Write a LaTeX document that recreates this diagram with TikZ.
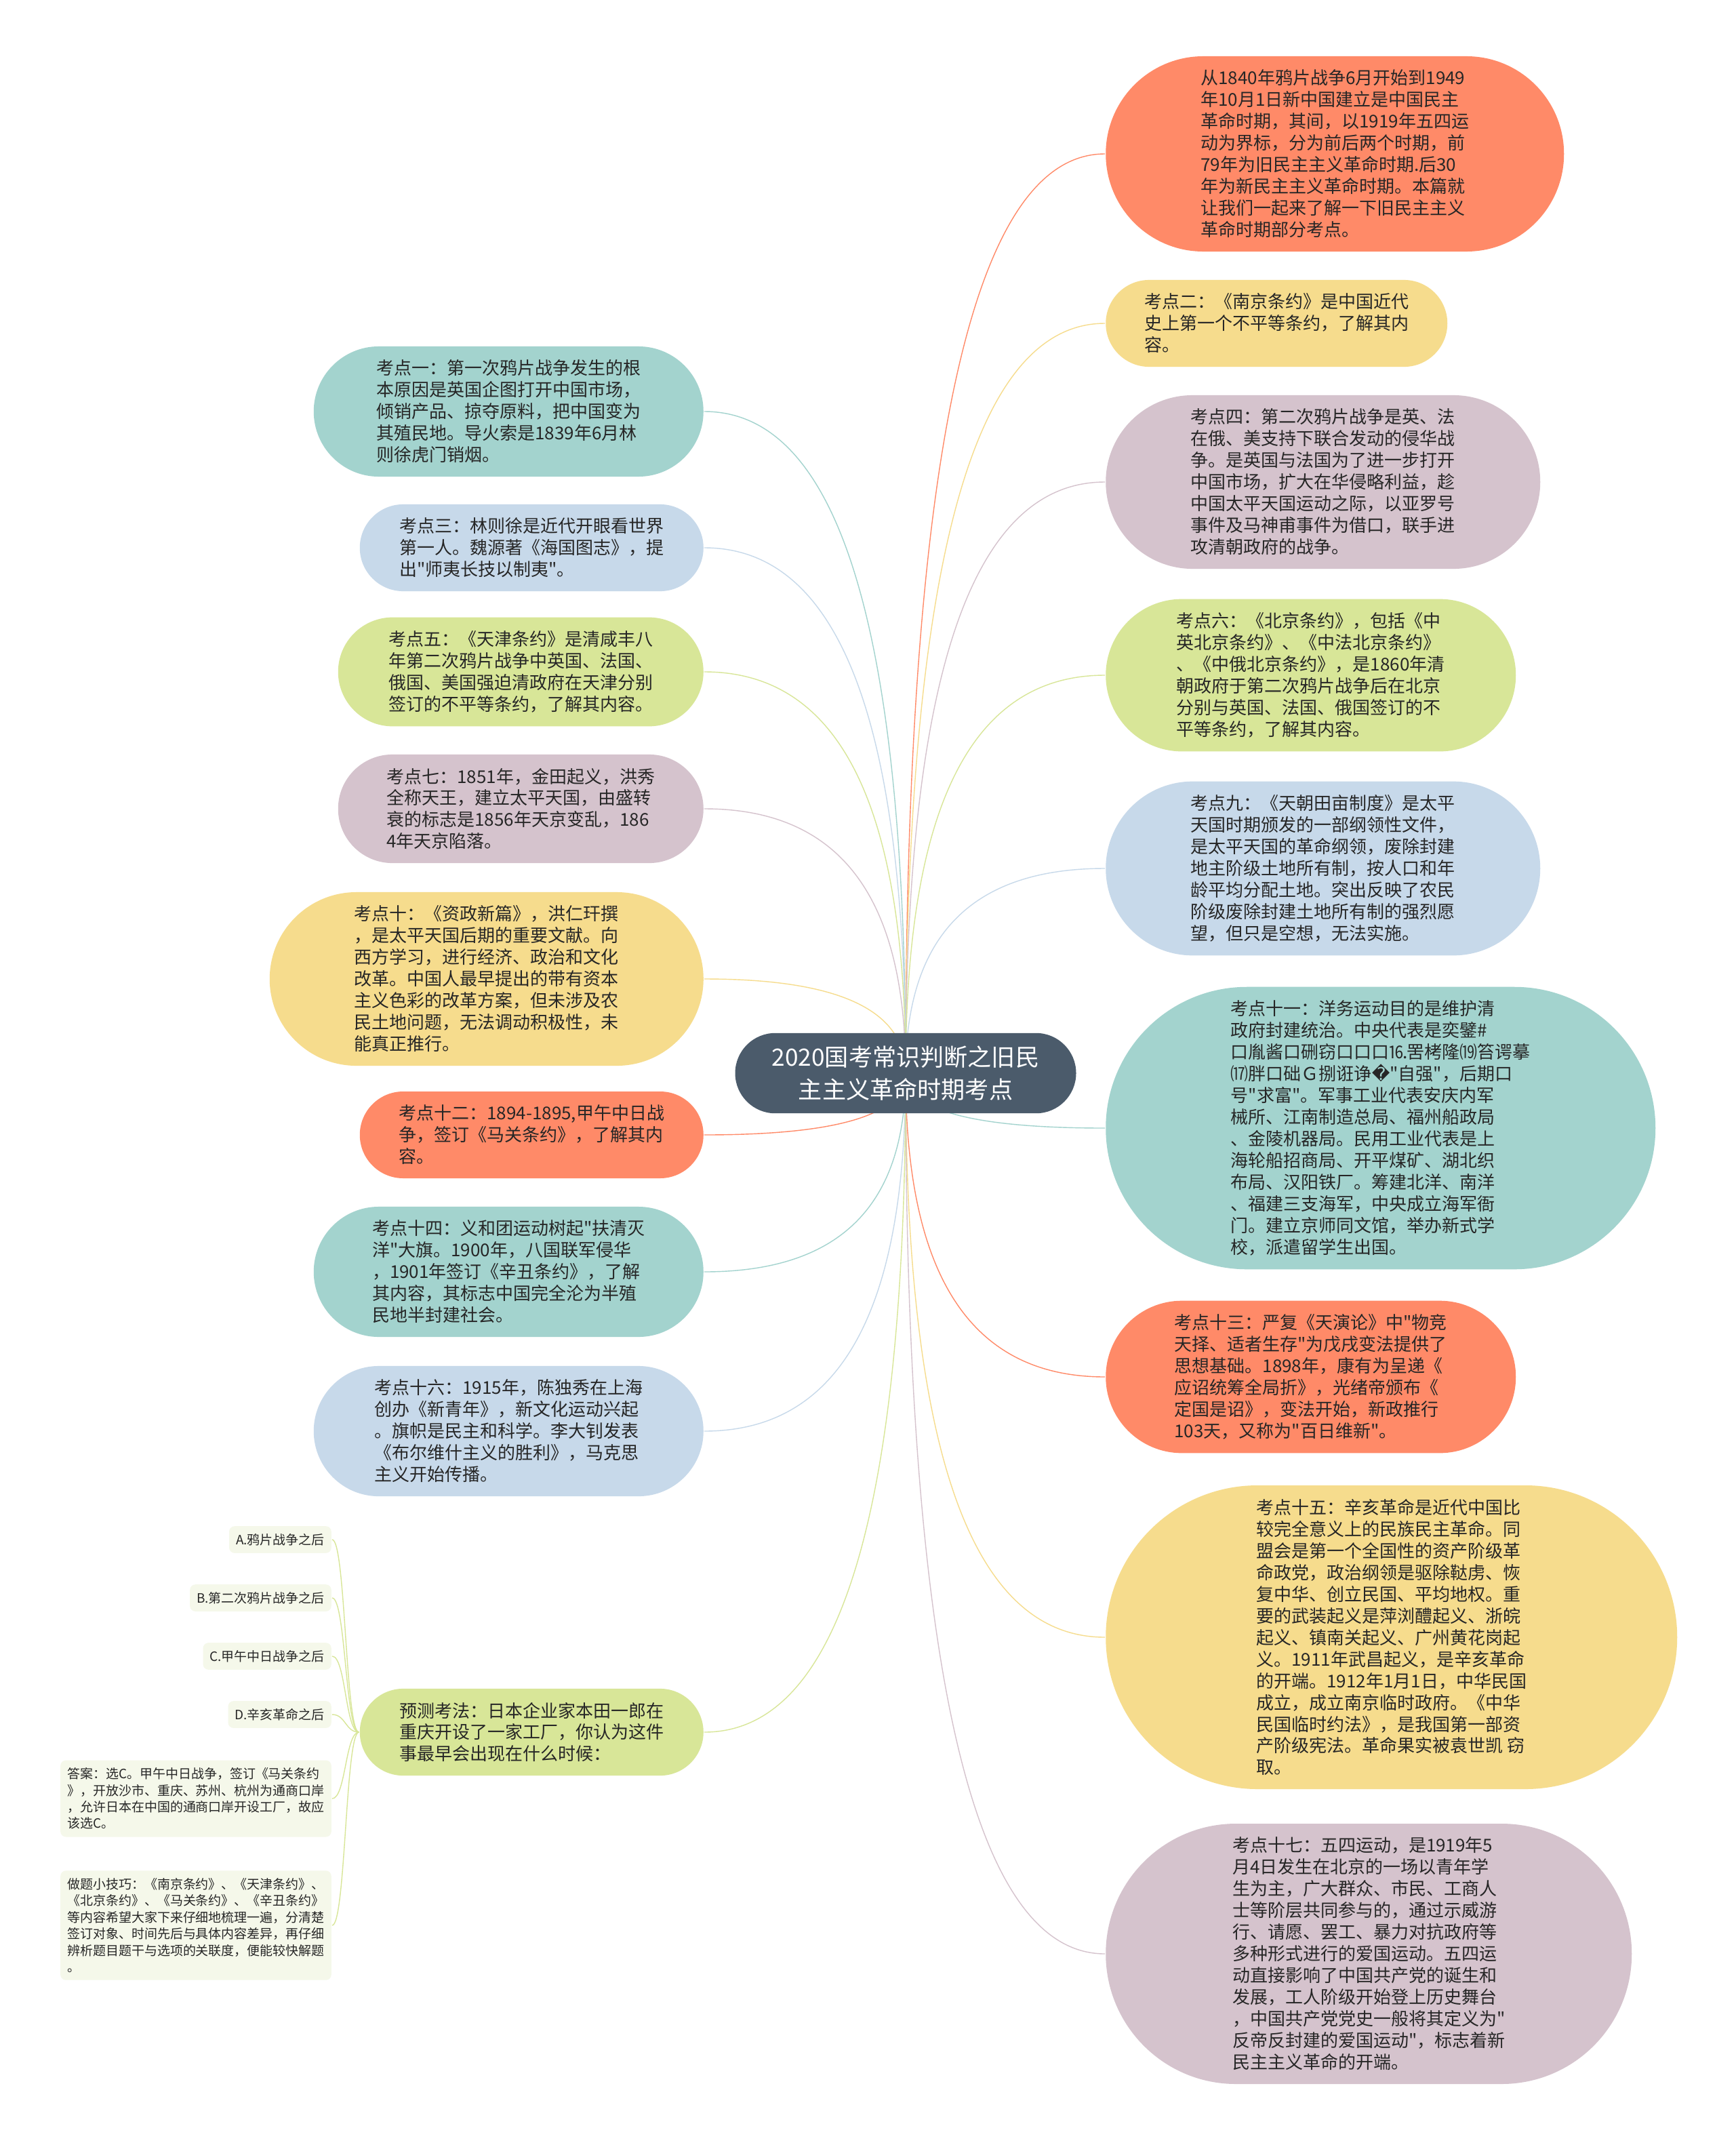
\documentclass[tikz,border=0pt]{standalone}
\usepackage{fontspec}
\setmainfont{Noto Sans CJK SC}
\newfontfamily\cjk{Noto Sans CJK SC}
\newfontfamily\dejavu{DejaVu Sans}
\usetikzlibrary{shapes.misc, calc, backgrounds}

\definecolor{rootfill}{HTML}{4B5B6B}
\definecolor{salmonfill}{HTML}{FF8A68}
\definecolor{sandfill}{HTML}{F6DC8D}
\definecolor{mauvefill}{HTML}{D5C3CD}
\definecolor{limefill}{HTML}{D8E698}
\definecolor{skyfill}{HTML}{C7D9EA}
\definecolor{seafill}{HTML}{A3D3CE}
\definecolor{optfill}{HTML}{F5F8EA}

\newcommand{\kpfont}{\cjk\fontsize{7.4pt}{9.1pt}\selectfont}
\newcommand{\optfont}{\cjk\fontsize{5.4pt}{6.95pt}\selectfont}
\newcommand{\rootfont}{\cjk\fontsize{10pt}{13.6pt}\selectfont}

\begin{document}
\begin{tikzpicture}[
    point/.style={
        rounded rectangle, text=black!85,
        inner xsep=0.02cm, inner ysep=0.2cm,
        align=left, font=\kpfont
    },
    warm/.style={point, fill=salmonfill},
    sand/.style={point, fill=sandfill},
    mauve/.style={point, fill=mauvefill},
    lime/.style={point, fill=limefill},
    sky/.style={point, fill=skyfill},
    sea/.style={point, fill=seafill},
    opt/.style={
        rectangle, rounded corners=0.08cm, fill=optfill, text=black!85,
        inner xsep=0.1cm, inner ysep=0.11cm,
        align=left, font=\optfont, anchor=east
    },
    branch/.style={to path={
        .. controls ($(\tikztostart)!0.67!(\tikztostart |- \tikztotarget)$)
        and ($(\tikztotarget)!0.67!(\tikztostart |- \tikztotarget)$) .. (\tikztotarget)}},
    twig/.style={to path={.. controls +(-0.2,0) and +(0.2,0) .. (\tikztotarget)}},
    line width=0.7pt
]
\useasboundingbox (0,0) rectangle (25.6,-31.64);

% root
\node[rounded rectangle, fill=rootfill, text=white, font=\rootfont, align=center,
      inner xsep=0.02cm, inner ysep=0.19cm, minimum width=5.07cm] (root) at (13.36,-15.83)
    {2020国考常识判断之旧民\\主主义革命时期考点};

% right column
\node[warm, anchor=west, minimum width=6.8cm] (intro) at (16.3,-2.27) {从1840年鸦片战争6月开始到1949\\年10月1日新中国建立是中国民主\\革命时期，其间，以1919年五四运\\动为界标，分为前后两个时期，前\\79年为旧民主主义革命时期.后30\\年为新民主主义革命时期。本篇就\\让我们一起来了解一下旧民主主义\\革命时期部分考点。};
\node[sand, anchor=west, minimum width=5.08cm] (kp2) at (16.3,-4.77) {考点二：《南京条约》是中国近代\\史上第一个不平等条约，了解其内\\容。};
\node[mauve, anchor=west, minimum width=6.45cm] (kp4) at (16.3,-7.11) {考点四：第二次鸦片战争是英、法\\在俄、美支持下联合发动的侵华战\\争。是英国与法国为了进一步打开\\中国市场，扩大在华侵略利益，趁\\中国太平天国运动之际，以亚罗号\\事件及马神甫事件为借口，联手进\\攻清朝政府的战争。};
\node[lime, anchor=west, minimum width=6.09cm] (kp6) at (16.3,-9.96) {考点六：《北京条约》，包括《中\\英北京条约》、《中法北京条约》\\、《中俄北京条约》，是1860年清\\朝政府于第二次鸦片战争后在北京\\分别与英国、法国、俄国签订的不\\平等条约，了解其内容。};
\node[sky, anchor=west, minimum width=6.45cm] (kp9) at (16.3,-12.81) {考点九：《天朝田亩制度》是太平\\天国时期颁发的一部纲领性文件，\\是太平天国的革命纲领，废除封建\\地主阶级土地所有制，按人口和年\\龄平均分配土地。突出反映了农民\\阶级废除封建土地所有制的强烈愿\\望，但只是空想，无法实施。};
\node[sea, anchor=west, minimum width=8.15cm] (kp11) at (16.3,-16.64) {考点十一：洋务运动目的是维护清\\政府封建统治。中央代表是奕鐾\#\\口胤酱口硎窃口口口⒗罟栲隆⒆笞谔摹\\⒄胖口础Ｇ捌诳诤{\dejavu �}"自强"，后期口\\号"求富"。军事工业代表安庆内军\\械所、江南制造总局、福州船政局\\、金陵机器局。民用工业代表是上\\海轮船招商局、开平煤矿、湖北织\\布局、汉阳铁厂。筹建北洋、南洋\\、福建三支海军，中央成立海军衙\\门。建立京师同文馆，举办新式学\\校，派遣留学生出国。};
\node[warm, anchor=west, minimum width=6.09cm] (kp13) at (16.3,-20.31) {考点十三：严复《天演论》中"物竞\\天择、适者生存"为戊戌变法提供了\\思想基础。1898年，康有为呈递《\\应诏统筹全局折》，光绪帝颁布《\\定国是诏》，变法开始，新政推行\\103天，又称为"百日维新"。};
\node[sand, anchor=west, minimum width=8.47cm] (kp15) at (16.3,-24.15) {考点十五：辛亥革命是近代中国比\\较完全意义上的民族民主革命。同\\盟会是第一个全国性的资产阶级革\\命政党，政治纲领是驱除鞑虏、恢\\复中华、创立民国、平均地权。重\\要的武装起义是萍浏醴起义、浙皖\\起义、镇南关起义、广州黄花岗起\\义。1911年武昌起义，是辛亥革命\\的开端。1912年1月1日，中华民国\\成立，成立南京临时政府。《中华\\民国临时约法》，是我国第一部资\\产阶级宪法。革命果实被袁世凯 窃\\取。};
\node[mauve, anchor=west, minimum width=7.8cm] (kp17) at (16.3,-28.82) {考点十七：五四运动，是1919年5\\月4日发生在北京的一场以青年学\\生为主，广大群众、市民、工商人\\士等阶层共同参与的，通过示威游\\行、请愿、罢工、暴力对抗政府等\\多种形式进行的爱国运动。五四运\\动直接影响了中国共产党的诞生和\\发展，工人阶级开始登上历史舞台\\，中国共产党党史一般将其定义为"\\反帝反封建的爱国运动"，标志着新\\民主主义革命的开端。};

% left column
\node[sea, anchor=east, minimum width=5.79cm] (kp1) at (10.39,-6.07) {考点一：第一次鸦片战争发生的根\\本原因是英国企图打开中国市场，\\倾销产品、掠夺原料，把中国变为\\其殖民地。导火索是1839年6月林\\则徐虎门销烟。};
\node[sky, anchor=east, minimum width=5.11cm] (kp3) at (10.39,-8.08) {考点三：林则徐是近代开眼看世界\\第一人。魏源著《海国图志》，提\\出"师夷长技以制夷"。};
\node[lime, anchor=east, minimum width=5.43cm] (kp5) at (10.39,-9.91) {考点五：《天津条约》是清咸丰八\\年第二次鸦片战争中英国、法国、\\俄国、美国强迫清政府在天津分别\\签订的不平等条约，了解其内容。};
\node[mauve, anchor=east, minimum width=5.43cm] (kp7) at (10.39,-11.93) {考点七：1851年，金田起义，洪秀\\全称天王，建立太平天国，由盛转\\衰的标志是1856年天京变乱，186\\4年天京陷落。};
\node[sand, anchor=east, minimum width=6.44cm] (kp10) at (10.39,-14.44) {考点十：《资政新篇》，洪仁玕撰\\，是太平天国后期的重要文献。向\\西方学习，进行经济、政治和文化\\改革。中国人最早提出的带有资本\\主义色彩的改革方案，但未涉及农\\民土地问题，无法调动积极性，未\\能真正推行。};
\node[warm, anchor=east, minimum width=5.11cm] (kp12) at (10.39,-16.74) {考点十二：1894-1895,甲午中日战\\争，签订《马关条约》，了解其内\\容。};
\node[sea, anchor=east, minimum width=5.79cm] (kp14) at (10.39,-18.76) {考点十四：义和团运动树起"扶清灭\\洋"大旗。1900年，八国联军侵华\\，1901年签订《辛丑条约》，了解\\其内容，其标志中国完全沦为半殖\\民地半封建社会。};
\node[sky, anchor=east, minimum width=5.79cm] (kp16) at (10.39,-21.11) {考点十六：1915年，陈独秀在上海\\创办《新青年》，新文化运动兴起\\。旗帜是民主和科学。李大钊发表\\《布尔维什主义的胜利》，马克思\\主义开始传播。};
\node[lime, anchor=east, minimum width=5.11cm] (predict) at (10.39,-25.55) {预测考法：日本企业家本田一郎在\\重庆开设了一家工厂，你认为这件\\事最早会出现在什么时候：};

% options of the test question
\node[opt] (optA) at (4.9,-22.71) {A.鸦片战争之后};
\node[opt] (optB) at (4.9,-23.57) {B.第二次鸦片战争之后};
\node[opt] (optC) at (4.9,-24.43) {C.甲午中日战争之后};
\node[opt] (optD) at (4.9,-25.29) {D.辛亥革命之后};
\node[opt] (answer) at (4.9,-26.53) {答案：选C。甲午中日战争，签订《马关条约\\》，开放沙市、重庆、苏州、杭州为通商口岸\\，允许日本在中国的通商口岸开设工厂，故应\\该选C。};
\node[opt] (tips) at (4.9,-28.40) {做题小技巧：《南京条约》、《天津条约》、\\《北京条约》、《马关条约》、《辛丑条约》\\等内容希望大家下来仔细地梳理一遍，分清楚\\签订对象、时间先后与具体内容差异，再仔细\\辨析题目题干与选项的关联度，便能较快解题\\。};

\begin{scope}[on background layer]
\fill[white] (0,0) rectangle (25.6,-31.64);
\draw[salmonfill] (root.center) to[branch] (intro.west);
\draw[sandfill] (root.center) to[branch] (kp2.west);
\draw[mauvefill] (root.center) to[branch] (kp4.west);
\draw[limefill] (root.center) to[branch] (kp6.west);
\draw[skyfill] (root.center) to[branch] (kp9.west);
\draw[seafill] (root.center) to[branch] (kp11.west);
\draw[salmonfill] (root.center) to[branch] (kp13.west);
\draw[sandfill] (root.center) to[branch] (kp15.west);
\draw[mauvefill] (root.center) to[branch] (kp17.west);
\draw[seafill] (root.center) to[branch] (kp1.east);
\draw[skyfill] (root.center) to[branch] (kp3.east);
\draw[limefill] (root.center) to[branch] (kp5.east);
\draw[mauvefill] (root.center) to[branch] (kp7.east);
\draw[sandfill] (root.center) to[branch] (kp10.east);
\draw[salmonfill] (root.center) to[branch] (kp12.east);
\draw[seafill] (root.center) to[branch] (kp14.east);
\draw[skyfill] (root.center) to[branch] (kp16.east);
\draw[limefill] (root.center) to[branch] (predict.east);
\draw[limefill] (predict.west) to[twig] (optA.east);
\draw[limefill] (predict.west) to[twig] (optB.east);
\draw[limefill] (predict.west) to[twig] (optC.east);
\draw[limefill] (predict.west) to[twig] (optD.east);
\draw[limefill] (predict.west) to[twig] (answer.east);
\draw[limefill] (predict.west) to[twig] (tips.east);
\end{scope}

\end{tikzpicture}
\end{document}
